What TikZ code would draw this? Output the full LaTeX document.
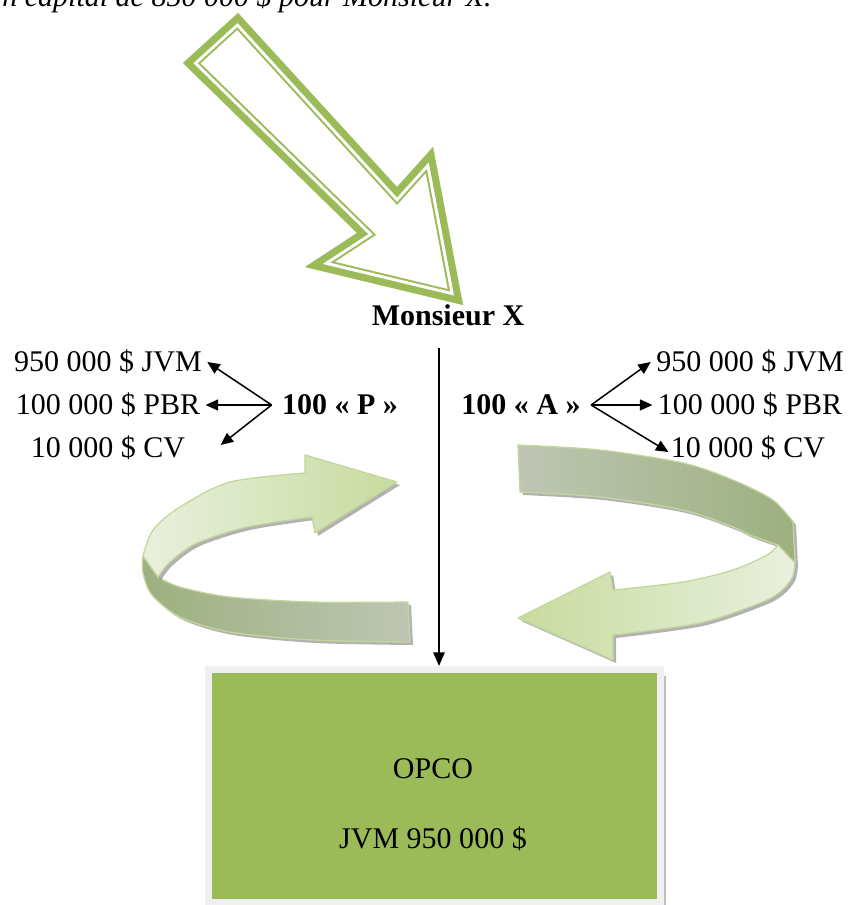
\documentclass[tikz,border=0pt]{standalone}
\usepackage{fontspec}
\setmainfont{Liberation Serif}
\usepackage{tikz}
\usetikzlibrary{arrows.meta, positioning, shadows}
\definecolor{arrowGreen}{HTML}{9BBB59}
\definecolor{boxGreen}{HTML}{9BBB59}
\definecolor{boxEdge}{HTML}{F0F0F0}
\definecolor{ribPale}{HTML}{E9F0DE}
\definecolor{ribHead}{HTML}{C7DB9E}
\definecolor{ribOlive}{HTML}{9DB07F}
\definecolor{ribGrey}{HTML}{BEC6B3}
\definecolor{ribEdge}{HTML}{C3D69B}
\definecolor{ribShadow}{HTML}{7F7F7F}

\begin{document}
\begin{tikzpicture}[
  x=0.4pt, y=0.4pt,
  txt/.style={font=\fontsize{12}{14}\selectfont, inner sep=2pt},
  lead/.style={font=\fontsize{12}{14}\selectfont\bfseries, inner sep=4pt},
  fan/.style={-{Triangle[length=5pt,width=4.4pt]}, semithick},
  vline/.style={-{Triangle[length=5.5pt,width=4.6pt]}, semithick},
  ribbon/.style={draw=ribEdge, line width=0.5pt, line join=round,
                 preaction={fill=ribShadow, opacity=0.6, transform canvas={xshift=1.2pt, yshift=-1.2pt}}},
  opcobox/.style={fill=boxGreen, draw=boxEdge, line width=2.8pt, inner sep=0pt,
                  minimum width=180.8pt, minimum height=93.2pt,
                  drop shadow={shadow xshift=2.4pt, shadow yshift=-2.4pt}},
]
\useasboundingbox (0,0) rectangle (852,-905);
\clip (0,0) rectangle (852,-905);

% ---- caption line (cut at the top) ----
\node[txt, anchor=base east, font=\fontsize{12}{14}\selectfont\itshape] (gaintext) at (497,-7)
  {n capital de 850 000 \$ pour Monsieur X.};

% ---- big outlined arrow ----
\coordinate (b1) at (238,-13);
\coordinate (b2) at (397,-187);
\coordinate (b3) at (433,-147);
\coordinate (b4) at (463,-305);
\coordinate (b5) at (305,-267);
\coordinate (b6) at (357,-233);
\coordinate (b7) at (183,-63);
\begin{scope}
  \clip (b1) -- (b2) -- (b3) -- (b4) -- (b5) -- (b6) -- (b7) -- cycle;
  \foreach \w/\c in {9.6pt/arrowGreen, 8pt/white, 5.6pt/arrowGreen}
    \draw[line width=\w, draw=\c, line join=miter] (b1) -- (b2) -- (b3) -- (b4) -- (b5) -- (b6) -- (b7) -- cycle;
\end{scope}

% ---- left ribbon ----
\shade[ribbon, left color=ribOlive, right color=ribGrey]
  (143,-556) -- (158,-577)
  -- plot[smooth] coordinates {(158,-577) (180,-587) (230,-597) (313,-602) (408,-602)}
  -- (410,-642)
  -- plot[smooth] coordinates {(410,-642) (313,-640) (230,-632) (180,-617) (152,-595) (143,-573) (143,-556)}
  -- cycle;
\shade[ribbon, left color=ribPale, right color=ribHead]
  (397,-482) -- (315,-533) -- (312,-517)
  -- plot[smooth] coordinates {(312,-517) (247,-527) (197,-543) (170,-562) (158,-577)}
  -- (143,-556)
  -- plot[smooth] coordinates {(143,-556) (153,-530) (180,-507) (230,-482) (305,-473)}
  -- (305,-455) -- cycle;

% ---- right ribbon ----
\shade[ribbon, left color=ribGrey, right color=ribOlive]
  (518,-445)
  -- plot[smooth] coordinates {(518,-445) (600,-450) (683,-463) (733,-480) (773,-500) (793,-522)}
  -- (795,-563) -- (778,-545)
  -- plot[smooth] coordinates {(778,-545) (750,-535) (733,-527) (683,-510) (600,-497) (520,-492)}
  -- cycle;
\shade[ribbon, left color=ribHead, right color=ribPale]
  (778,-545) -- (795,-563)
  -- plot[smooth] coordinates {(795,-563) (792,-578) (780,-592) (760,-603) (700,-623) (613,-635)}
  -- (613,-660) -- (518,-618) -- (610,-572) -- (613,-590)
  -- plot[smooth] coordinates {(613,-590) (683,-582) (733,-570) (767,-555) (778,-545)}
  -- cycle;

% ---- OPCO ----
\node[opcobox] (opco) at (434,-786) {};
\node[txt, align=center] (opcotext) at (433,-805) {OPCO\\[14pt]JVM 950 000 \$};

% ---- Monsieur X ----
\node[lead] (monsieur) at (448,-315) {Monsieur X};

% ---- left shares ----
\node[txt] (jvmL) at (108,-362) {950 000 \$ JVM};
\node[txt] (pbrL) at (108,-405) {100 000 \$ PBR};
\node[txt] (cvL)  at (108,-448) {10 000 \$ CV};
\node[lead] (sharesP) at (340,-405) {100 « P »};

% ---- right shares ----
\node[txt] (jvmR) at (750,-362) {950 000 \$ JVM};
\node[txt] (pbrR) at (750,-405) {100 000 \$ PBR};
\node[txt] (cvR)  at (748,-448) {10 000 \$ CV};
\node[lead] (sharesA) at (521,-405) {100 « A »};

% ---- arrows ----
\draw[vline, shorten <=4.8pt] ([xshift=-3.6pt]monsieur.south) -- ([xshift=-3.6pt]monsieur.south |- opco.north);

\draw[fan] (sharesP.west) -- (jvmL.east);
\draw[fan] (sharesP.west) -- (pbrL.east);
\draw[fan] (sharesP.west) -- ([shift={(30,3)}]cvL.east);

\draw[fan] (sharesA.east) -- (jvmR.west);
\draw[fan] (sharesA.east) -- (pbrR.west);
\draw[fan] (sharesA.east) -- ([shift={(3,-4)}]cvR.west);
\end{tikzpicture}
\end{document}
